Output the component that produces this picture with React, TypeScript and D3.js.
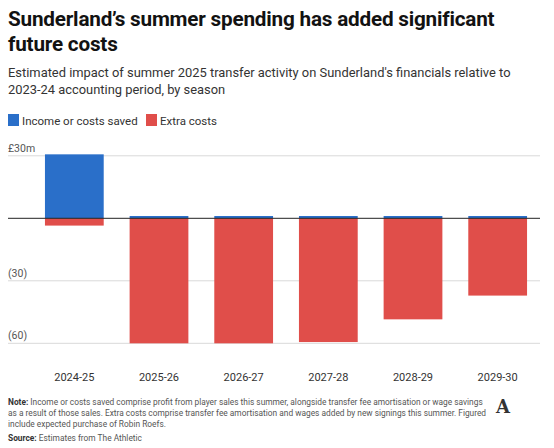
import { scaleBand, scaleLinear } from "d3";

const seasons = ["2024-25", "2025-26", "2026-27", "2027-28", "2028-29", "2029-30"];
const incomeSaved = [30.7, 1.1, 1.1, 1.1, 1.1, 1.1];
const extraCosts = [-3.5, -60, -60, -59.4, -48.5, -37.1];
const yTicks = [30, 0, -30, -60];
const yTickLabels = ["£30m", "", "(30)", "(60)"];

const BLUE = "#2a6fc9";
const RED = "#e04e4a";
const FONT = "'Roboto', 'Liberation Sans', Arial, sans-serif";

export default function App() {
  const width = 554;
  const height = 448;
  const x = scaleBand<string>().domain(seasons).range([32, 540]).paddingInner(0.306).paddingOuter(0.153);
  const y = scaleLinear().domain([-60, 30]).range([343.3, 155.8]);
  const gridLeft = 8;
  const gridRight = 540;

  return (
    <svg width={width} height={height} style={{ position: "absolute", left: 0, top: 0, fontFamily: FONT }}>
      <rect width={width} height={height} fill="#fff" />
      <text x={8} y={26} fontSize={20.7} fontWeight={700} fill="#121212" letterSpacing={-0.2}>
        Sunderland’s summer spending has added significant
      </text>
      <text x={8} y={51} fontSize={20.7} fontWeight={700} fill="#121212" letterSpacing={-0.2}>
        future costs
      </text>
      <text x={8} y={77} fontSize={12.9} fill="#333">
        Estimated impact of summer 2025 transfer activity on Sunderland's financials relative to
      </text>
      <text x={8} y={94} fontSize={12.9} fill="#333">
        2023-24 accounting period, by season
      </text>

      <rect x={8} y={114} width={11} height={12} fill={BLUE} />
      <text x={22} y={124.5} fontSize={11.5} fill="#333">Income or costs saved</text>
      <rect x={146} y={114} width={11} height={12} fill={RED} />
      <text x={160} y={124.5} fontSize={11.5} fill="#333">Extra costs</text>

      {yTicks.map((t, i) =>
        t === 0 ? null : (
          <g key={t}>
            <line x1={gridLeft} x2={gridRight} y1={y(t)} y2={y(t)} stroke="#d9d9d9" strokeWidth={1} />
            <text x={gridLeft} y={y(t) - 4} fontSize={10.5} fill="#555">{yTickLabels[i]}</text>
          </g>
        )
      )}

      {seasons.map((s, i) => (
        <g key={s}>
          <rect x={x(s)} y={y(incomeSaved[i])} width={x.bandwidth()} height={y(0) - y(incomeSaved[i])} fill={BLUE} />
          <rect x={x(s)} y={y(0)} width={x.bandwidth()} height={y(extraCosts[i]) - y(0)} fill={RED} />
          <text x={(x(s) ?? 0) + x.bandwidth() / 2} y={380.5} fontSize={11} fill="#333" textAnchor="middle">{s}</text>
        </g>
      ))}

      <line x1={gridLeft} x2={gridRight} y1={y(0)} y2={y(0)} stroke="#222" strokeWidth={1} />

      <g fontSize={8.35} fill="#555">
        <text x={8} y={405}>
          <tspan fontWeight={700} fill="#333">Note:</tspan> Income or costs saved comprise profit from player sales this summer, alongside transfer fee amortisation or wage savings
        </text>
        <text x={8} y={416}>as a result of those sales. Extra costs comprise transfer fee amortisation and wages added by new signings this summer. Figured</text>
        <text x={8} y={427}>include expected purchase of Robin Roefs.</text>
        <text x={8} y={441}>
          <tspan fontWeight={700} fill="#333">Source:</tspan> Estimates from The Athletic
        </text>
      </g>
      <text x={503} y={413} fontSize={18} fontWeight={700} fontFamily="'DejaVu Serif', serif" fill="#333" textAnchor="middle">A</text>
    </svg>
  );
}
